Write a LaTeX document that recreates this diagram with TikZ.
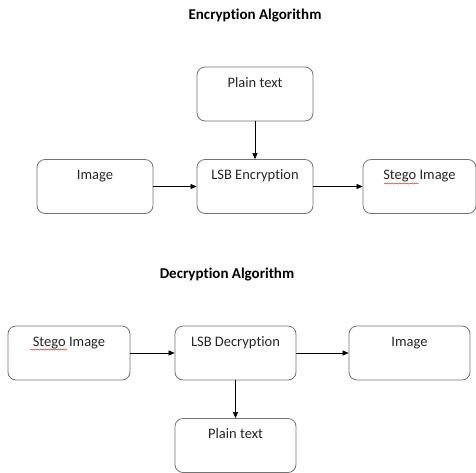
\documentclass[tikz,border=0pt]{standalone}
\usepackage{fontspec}
\setmainfont{Carlito}[Ligatures=NoCommon]
\usetikzlibrary{arrows.meta,decorations.pathmorphing}
\tikzset{
  boxnode/.style={draw=black!55, line width=0.8pt, rounded corners=8pt,
    minimum width=116pt, inner xsep=2pt, inner ysep=4pt,
    text height=16pt, text depth=30pt, font=\fontsize{14.5}{16}\selectfont, text=black!85},
  titlenode/.style={font=\fontsize{15}{17}\selectfont\bfseries},
  conn/.style={line width=0.6pt, -{Triangle[length=6pt,width=5pt]}},
  squig/.style={red, line width=0.4pt, decorate, decoration={snake, segment length=2.5pt, amplitude=0.6pt}}
}
\begin{document}
\begin{tikzpicture}[x=1pt,y=-1pt]
\useasboundingbox (0,0) rectangle (476,472);
\node[titlenode] (t1) at (255,16) {Encryption Algorithm};
\node[boxnode] (pt1) at (255,94) {Plain text};
\node[boxnode] (im1) at (95,186.5) {Image};
\node[boxnode] (lsb1) at (255,186.5) {LSB Encryption};
\node[boxnode, minimum width=113pt] (st1) at (419.5,186.5) {Stego Image};
\draw[conn] (pt1.south) -- (lsb1.north);
\draw[conn] (im1.east) -- (lsb1.west);
\draw[conn] (lsb1.east) -- (st1.west);
\draw[squig] (384,183.5) -- (419,183.5);

\node[titlenode] (t2) at (227,275) {Decryption Algorithm};
\node[boxnode, minimum width=122pt] (st2) at (69,353) {Stego Image};
\node[boxnode, minimum width=121pt] (lsb2) at (235.5,353) {LSB Decryption};
\node[boxnode, minimum width=121pt] (im2) at (409.5,353) {Image};
\node[boxnode, minimum width=121pt] (pt2) at (235.5,445.5) {Plain text};
\draw[conn] (st2.east) -- (lsb2.west);
\draw[conn] (lsb2.east) -- (im2.west);
\draw[conn] (lsb2.south) -- (pt2.north);
\draw[squig] (30,349.5) -- (67,349.5);
\end{tikzpicture}
\end{document}
